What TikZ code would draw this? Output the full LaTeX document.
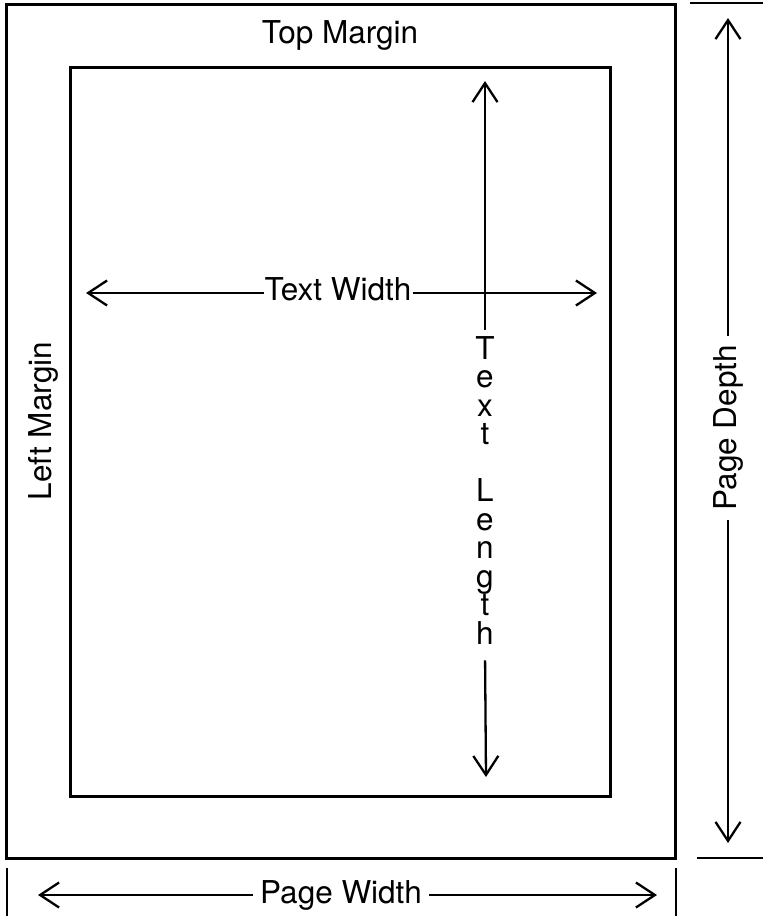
\documentclass[tikz,border=0pt]{standalone}
\usepackage{fontspec}
\setmainfont{TeX Gyre Heros}
\usetikzlibrary{arrows.meta}
\tikzstyle{box}=[line width=3pt,line join=miter]
\tikzstyle{tick}=[line width=2.8pt]
\tikzstyle{arr}=[line width=2.3pt,-{Straight Barb[length=19pt,width=25pt,line width=2.3pt]}]
\tikzstyle{lbl}=[font=\fontsize{31.5}{36}\selectfont,inner sep=6pt]

\begin{document}
\begin{tikzpicture}[x=1pt,y=-1pt]
    \useasboundingbox (0,0) rectangle (763,916);
    % page and text area
    \coordinate (outer1) at (6,4);
    \coordinate (outer2) at (675,858);
    \coordinate (inner1) at (70,67);
    \coordinate (inner2) at (610,796);
    \draw [style=box] (outer1) rectangle (outer2);
    \draw [style=box] (inner1) rectangle (inner2);
    \node [style=lbl] (top) at (340,35) {Top Margin};
    \node [style=lbl,rotate=90] (left) at (43,421) {Left Margin};
    % text width
    \node [style=lbl,inner xsep=1pt] (tw) at (338,289) {Text Width};
    \coordinate (twl) at (86,293);
    \coordinate (twr) at (597,293);
    \draw [style=arr] (tw.west |- twl) to (twl);
    \draw [style=arr] (tw.east |- twr) to (twr);
    % text length
    \node [style=lbl,align=center,anchor=north,font=\fontsize{31.5}{28.5}\selectfont]
      (tl) at (485,330) {T\\e\\x\\t\\[28.5pt]L\\e\\n\\g\\t\\h};
    \coordinate (tlt) at (485,81);
    \coordinate (tlb) at (486,777);
    \draw [style=arr] (tl.north) to (tlt);
    \draw [style=arr,shorten <=10pt] (tl.south) to (tlb);
    % page depth
    \node [style=lbl,rotate=90,inner xsep=9pt] (pd) at (728,428) {Page Depth};
    \coordinate (pdt) at (728,18);
    \coordinate (pdb) at (728,843);
    \draw [style=arr] (pd.east) to (pdt);
    \draw [style=arr] (pd.west) to (pdb);
    \coordinate (tk1) at (690,3);
    \coordinate (tk2) at (763,3);
    \coordinate (tk3) at (697,858);
    \coordinate (tk4) at (763,858);
    \draw [style=tick] (tk1) to (tk2);
    \draw [style=tick] (tk3) to (tk4);
    % page width
    \node [style=lbl,inner xsep=7pt] (pw) at (341,895) {Page Width};
    \coordinate (pwl) at (38,895);
    \coordinate (pwr) at (657,895);
    \draw [style=arr] (pw.west) to (pwl);
    \draw [style=arr] (pw.east) to (pwr);
    \coordinate (tk5) at (7,868);
    \coordinate (tk6) at (7,916);
    \coordinate (tk7) at (676,868);
    \coordinate (tk8) at (676,916);
    \draw [style=tick] (tk5) to (tk6);
    \draw [style=tick] (tk7) to (tk8);
  \end{tikzpicture}
\end{document}
